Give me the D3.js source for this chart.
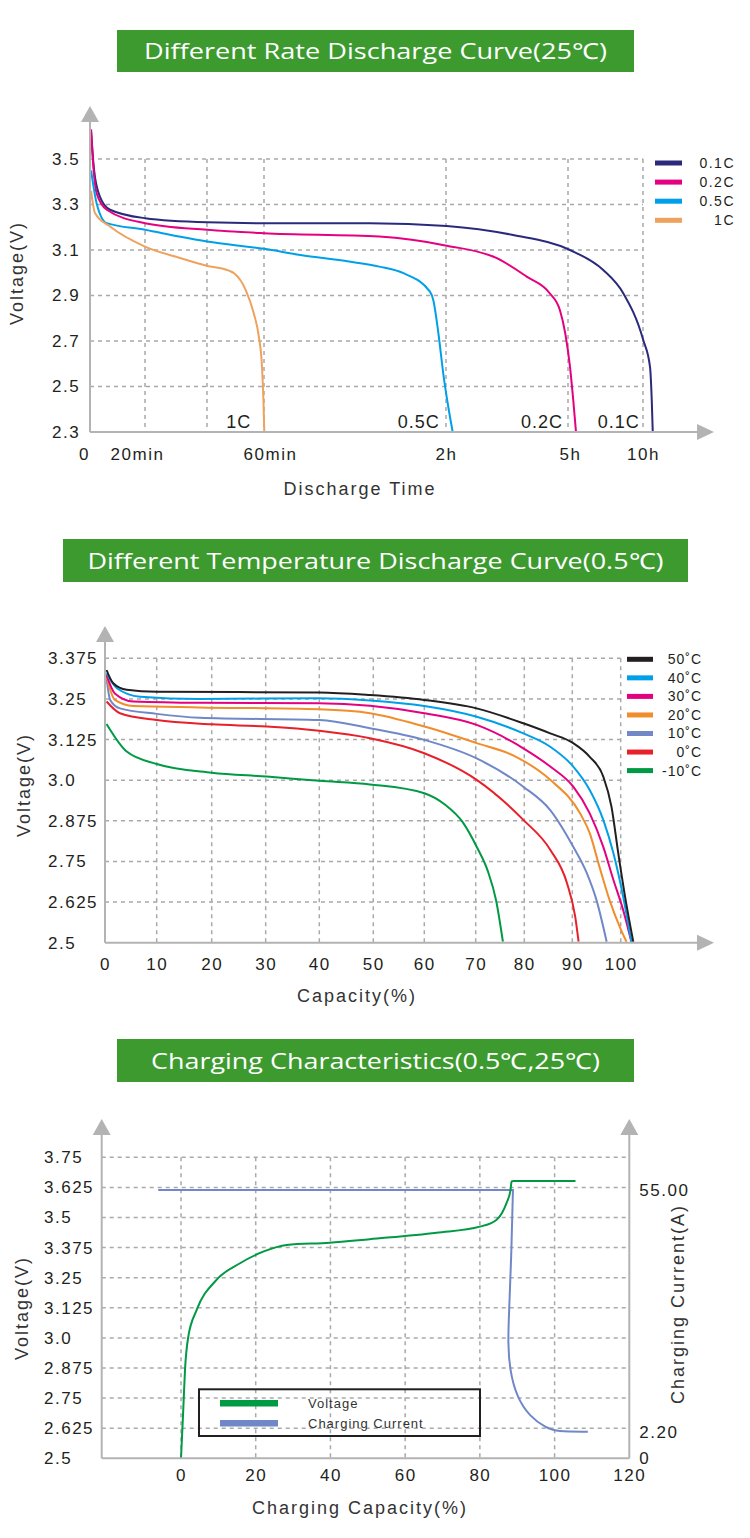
<!DOCTYPE html>
<html>
<head>
<meta charset="utf-8">
<script src="https://cdn.jsdelivr.net/npm/d3@7"></script>
<style>
  body { margin: 0; background: #fff; }
  text { font-family: "Liberation Sans", Arial, sans-serif; fill: #231f20; }
</style>
</head>
<body>
<svg id="chart" width="750" height="1538"></svg>
<script>
// ---- chart 1 : rate discharge (time in minutes, voltage) ----
var rateNames = ['0.1C', '0.2C', '0.5C', '1C'];
var rateColors = ['#2a2a7c', '#e4007f', '#00a0e9', '#eea25e'];
var rateTicks = [0, 20, 60, 120, 300, 600];
var rateTickLabels = ['0', '20min', '60min', '2h', '5h', '10h'];
var rateGridX = [20, 40, 60, 120, 300, 600];
var rateVolts = [2.3, 2.5, 2.7, 2.9, 3.1, 3.3, 3.5];
var rate01C = [[0.4,3.62],[1.5,3.45],[3.6,3.335],[7.3,3.277],[20,3.24],[40,3.222],[60,3.218],[95,3.218],[121,3.206],[219,3.166],[308,3.1],[441,3.012],[521,2.91],[601,2.704],[628,2.586],[635,2.44],[639,2.3]];
var rate02C = [[0.4,3.63],[1.2,3.47],[2.4,3.35],[6.1,3.277],[20,3.218],[40,3.189],[60,3.174],[98,3.159],[121,3.119],[195,3.064],[239,2.983],[273,2.91],[288,2.836],[296,2.733],[308,2.586],[321,2.44],[332,2.3]];
var rate05C = [[0.4,3.45],[2.4,3.306],[6.1,3.218],[20,3.189],[31,3.159],[40,3.137],[60,3.105],[72,3.078],[88,3.049],[98,3.027],[106,2.998],[114.7,2.917],[115.8,2.88],[117.5,2.733],[119.1,2.557],[123.4,2.41],[129.9,2.3]];
var rate1C = [[0.4,3.36],[1.8,3.263],[7.3,3.203],[20,3.115],[31.3,3.065],[39.9,3.031],[47.7,3.009],[49.5,2.998],[53.6,2.924],[56.4,2.822],[58.2,2.718],[59.3,2.586],[59.8,2.44],[60.1,2.3]];

// ---- chart 2 : temperature discharge (capacity %, voltage) ----
var tempNames = ['50˚C', '40˚C', '30˚C', '20˚C', '10˚C', '0˚C', '-10˚C'];
var tempColors = ['#231f20', '#00a0e9', '#e4007f', '#f18d2c', '#7088c8', '#e8202a', '#009944'];
var capTicks = [0, 10, 20, 30, 40, 50, 60, 70, 80, 90, 100];
var tempVolts = [2.5, 2.625, 2.75, 2.875, 3.0, 3.125, 3.25, 3.375];
var tempVoltLabels = ['2.5', '2.625', '2.75', '2.875', '3.0', '3.125', '3.25', '3.375'];
var temp50 = [[0.3,3.339],[1.6,3.298],[4.2,3.278],[10,3.272],[40,3.27],[49.4,3.262],[60,3.247],[70.2,3.221],[79.8,3.175],[85.4,3.144],[90.2,3.114],[93.6,3.072],[96.4,3.011],[98.1,2.918],[99.5,2.775],[100.9,2.642],[102.6,2.503]];
var temp40 = [[0.3,3.329],[2.3,3.283],[6.8,3.257],[17.8,3.25],[40,3.252],[49.4,3.245],[60,3.228],[70.2,3.195],[79.8,3.144],[85.4,3.103],[90.2,3.042],[93.6,2.97],[96.4,2.878],[98.5,2.775],[100.5,2.642],[102.2,2.503]];
var temp30 = [[0.3,3.324],[1.9,3.267],[5.5,3.242],[17.8,3.238],[40,3.237],[49.4,3.229],[60,3.206],[70.2,3.17],[79.8,3.098],[85.4,3.042],[90.2,2.98],[93.6,2.898],[96.4,2.795],[98.5,2.693],[100.5,2.601],[102.2,2.503]];
var temp20 = [[0.3,3.318],[1.9,3.247],[5.5,3.228],[17.8,3.224],[40,3.218],[49.4,3.206],[60,3.165],[70.2,3.114],[78.3,3.072],[85.4,3.001],[91.6,2.898],[93.6,2.837],[95.6,2.734],[97.7,2.631],[99.8,2.549],[101.2,2.503]];
var temp10 = [[0.3,3.314],[1.0,3.247],[2.9,3.221],[10,3.204],[17.8,3.192],[40,3.185],[49.4,3.16],[60,3.124],[70.2,3.067],[79.8,2.98],[85.4,2.908],[90.2,2.795],[93,2.714],[95,2.631],[97.1,2.503]];
var temp0 = [[0.3,3.242],[2.9,3.206],[10,3.185],[20,3.172],[30.2,3.165],[40,3.152],[49.4,3.129],[60,3.083],[70.2,3.001],[79.8,2.878],[85.4,2.786],[88.9,2.683],[90.6,2.58],[91.3,2.503]];
var tempM10 = [[0.3,3.173],[4.2,3.088],[10,3.05],[20,3.023],[30.2,3.011],[40,2.998],[49.4,2.987],[60,2.96],[64,2.925],[67.5,2.87],[70.2,2.795],[72.5,2.72],[74.2,2.63],[75.6,2.503]];

// ---- chart 3 : charging (capacity %, voltage / current) ----
var chgTicks = [0, 20, 40, 60, 80, 100, 120];
var chgGridX = [0, 20, 40, 60, 80, 100];
var chgVolts = [2.5, 2.625, 2.75, 2.875, 3.0, 3.125, 3.25, 3.375, 3.5, 3.625, 3.75];
var chgVoltLabels = ['2.5', '2.625', '2.75', '2.875', '3.0', '3.125', '3.25', '3.375', '3.5', '3.625', '3.75'];
var chgCurrTicks = [0, 2.2, 55];
var chgCurrLabels = ['0', '2.20', '55.00'];
var chgVoltage = [[0,2.5],[0.6,2.7],[1.07,2.867],[1.95,3.005],[4.2,3.116],[9.5,3.241],[15.8,3.31],[22,3.358],[28.3,3.386],[39.8,3.395],[50.5,3.41],[68.4,3.437],[80,3.462],[84.4,3.49],[87.1,3.559],[88.2,3.614],[88.5,3.65],[89,3.652],[105.6,3.652]];
var chgCurrent = [[-6.1,55],[88.85,55],[88.85,55],[88.85,55],[88.4,40],[87.8,28],[87.5,21.6],[88.0,15.7],[89.8,9.9],[93.3,5.5],[97.8,3.0],[100.5,2.2],[108.9,2.2]];
var chgLegend = ['Voltage', 'Charging Current'];
var chgColors = ['#009944', '#7088c8'];

var svg = d3.select('#chart');
var gridColor = '#a9a9a9', axisColor = '#b3b3b3';

function titleBox(x, y, w, h, txt, len) {
  svg.append('rect').attr('x', x).attr('y', y).attr('width', w).attr('height', h).attr('fill', '#3d9a2f');
  svg.append('text').attr('x', x + w / 2).attr('y', y + h / 2 + 8)
    .attr('text-anchor', 'middle').attr('textLength', len).attr('lengthAdjust', 'spacingAndGlyphs')
    .style('font-family', '"Open Sans", sans-serif').style('font-size', '22px').style('fill', '#fff')
    .text(txt);
}

function hGrid(vals, y, x0, x1) {
  svg.append('g').selectAll('line').data(vals).enter().append('line')
    .attr('x1', x0).attr('x2', x1).attr('y1', d => y(d)).attr('y2', d => y(d))
    .attr('stroke', gridColor).attr('stroke-width', 1.5).attr('stroke-dasharray', '4,4');
}

function vGrid(vals, x, y0, y1) {
  svg.append('g').selectAll('line').data(vals).enter().append('line')
    .attr('y1', y0).attr('y2', y1).attr('x1', d => x(d)).attr('x2', d => x(d))
    .attr('stroke', gridColor).attr('stroke-width', 1.5).attr('stroke-dasharray', '4,4');
}

function axisLine(x1, y1, x2, y2) {
  svg.append('line').attr('x1', x1).attr('y1', y1).attr('x2', x2).attr('y2', y2)
    .attr('stroke', axisColor).attr('stroke-width', 2);
}

function arrowUp(x, y) {
  svg.append('path').attr('d', 'M' + x + ',' + y + 'L' + (x - 9) + ',' + (y + 16) + 'L' + (x + 9) + ',' + (y + 16) + 'Z').attr('fill', axisColor);
}
function arrowRight(x, y) {
  svg.append('path').attr('d', 'M' + x + ',' + y + 'L' + (x - 17) + ',' + (y - 8) + 'L' + (x - 17) + ',' + (y + 8) + 'Z').attr('fill', axisColor);
}

function yLabels(scale, vals, labels, ax, left) {
  var g = svg.append('g').attr('transform', 'translate(' + ax + ',0)')
    .call(d3.axisLeft(scale).tickValues(vals).tickSize(0).tickFormat((d, i) => labels[i]));
  g.select('.domain').remove();
  g.selectAll('text').attr('x', left - ax).attr('text-anchor', 'start')
    .style('font-size', '17px').style('letter-spacing', '1.5px').style('font-family', '"Liberation Sans", Arial, sans-serif').attr('fill', '#231f20');
}

function xLabels(scale, vals, labels, ay, pad) {
  var g = svg.append('g').attr('transform', 'translate(0,' + ay + ')')
    .call(d3.axisBottom(scale).tickValues(vals).tickSize(0).tickPadding(pad).tickFormat((d, i) => labels[i]));
  g.select('.domain').remove();
  g.selectAll('text').style('font-size', '17px').style('letter-spacing', '1.5px')
    .style('font-family', '"Liberation Sans", Arial, sans-serif').attr('fill', '#231f20');
  return g;
}

function axisTitle(x, y, txt, rot) {
  svg.append('text').attr('transform', 'translate(' + x + ',' + y + ')' + (rot ? ' rotate(-90)' : ''))
    .attr('text-anchor', 'middle').attr('dy', '0.35em')
    .style('font-size', '18px').style('letter-spacing', '2px').style('fill', '#333').text(txt);
}

// =================== chart 1 ===================
titleBox(117, 30, 517, 42, 'Different Rate Discharge Curve(25℃)', 463);

var x1 = d3.scaleLinear().domain([0, 20, 40, 60, 120, 300, 600]).range([90, 145, 207, 264, 446, 568, 643]);
var y1 = d3.scaleLinear().domain([2.3, 3.5]).range([432, 159]);

hGrid(rateVolts.slice(1), y1, 90, x1(600));
vGrid(rateGridX, x1, y1(3.5), y1(2.3));

var line1 = d3.line().x(d => x1(d[0])).y(d => y1(d[1])).curve(d3.curveMonotoneX);
var rateSeries = [rate01C, rate02C, rate05C, rate1C];
svg.append('g').selectAll('path').data(rateSeries).enter().append('path')
  .attr('d', line1).attr('fill', 'none').attr('stroke-width', 2)
  .attr('stroke', (d, i) => rateColors[i]);

// curve end labels
svg.append('g').selectAll('text').data(rateSeries).enter().append('text')
  .attr('x', d => x1(d[d.length - 1][0]) - 13).attr('y', 428)
  .attr('text-anchor', 'end').style('font-size', '18px').style('letter-spacing', '1px')
  .text((d, i) => rateNames[i]);

axisLine(90, 120, 90, 432);
axisLine(90, 432, 698, 432);
arrowUp(90, 106);
arrowRight(714, 432);

yLabels(y1, rateVolts, rateVolts.map(d => d.toFixed(1)), 90, 52);
xLabels(x1, rateTicks, rateTickLabels, 432, 16)
  .selectAll('text').attr('dx', (d, i) => [-6, -8, 6, 0, 2, 0][i]);
axisTitle(17, 273, 'Voltage(V)', true);
axisTitle(360, 489, 'Discharge Time', false);

var leg1 = svg.append('g').selectAll('g').data(rateNames).enter().append('g')
  .attr('transform', (d, i) => 'translate(0,' + (163 + i * 19.1) + ')');
leg1.append('line').attr('x1', 655).attr('x2', 682).attr('stroke-width', 5)
  .attr('stroke', (d, i) => rateColors[i]);
leg1.append('text').attr('x', 735).attr('dy', '0.35em').attr('text-anchor', 'end')
  .style('font-size', '14px').style('letter-spacing', '1.5px').text(d => d);

// =================== chart 2 ===================
titleBox(63, 539, 625, 43, 'Different Temperature Discharge Curve(0.5℃)', 576);

var x2 = d3.scaleLinear().domain(capTicks)
  .range([105, 156.7, 211.7, 265.7, 319.3, 373.3, 424.3, 475.7, 524.3, 572.3, 620.7]);
var y2 = d3.scaleLinear().domain([2.5, 3.375]).range([942.7, 658.3]);

hGrid(tempVolts.slice(1), y2, 105, x2(100));
vGrid(capTicks.slice(1), x2, y2(3.375), y2(2.5));

var line2 = d3.line().x(d => x2(d[0])).y(d => y2(d[1])).curve(d3.curveMonotoneX);
var tempSeries = [temp50, temp40, temp30, temp20, temp10, temp0, tempM10];
svg.append('g').selectAll('path').data(tempSeries.slice().reverse()).enter().append('path')
  .attr('d', line2).attr('fill', 'none').attr('stroke-width', 2)
  .attr('stroke', (d, i) => tempColors[tempColors.length - 1 - i]);

axisLine(105, 640, 105, 942.7);
axisLine(105, 942.7, 698, 942.7);
arrowUp(105, 626);
arrowRight(714, 942.7);

yLabels(y2, tempVolts, tempVoltLabels, 105, 48);
xLabels(x2, capTicks, capTicks.map(String), 942.7, 15);
axisTitle(24, 785, 'Voltage(V)', true);
axisTitle(357, 996, 'Capacity(%)', false);

var leg2 = svg.append('g').selectAll('g').data(tempNames).enter().append('g')
  .attr('transform', (d, i) => 'translate(0,' + (659.3 + i * 18.55) + ')');
leg2.append('line').attr('x1', 627).attr('x2', 653).attr('stroke-width', 5)
  .attr('stroke', (d, i) => tempColors[i]);
leg2.append('text').attr('x', 702).attr('dy', '0.35em').attr('text-anchor', 'end')
  .style('font-size', '14px').style('letter-spacing', '1px').text(d => d);

// =================== chart 3 ===================
titleBox(117, 1039, 517, 43, 'Charging Characteristics(0.5℃,25℃)', 449);

var x3 = d3.scaleLinear().domain([0, 120]).range([181, 629.3]);
var y3 = d3.scaleLinear().domain([2.5, 3.75]).range([1458.3, 1157.3]);
var c3 = d3.scaleLinear().domain(chgCurrTicks).range([1458.3, 1431.7, 1190]);

hGrid(chgVolts.slice(1), y3, 101.7, 627);
vGrid(chgGridX, x3, y3(3.75), y3(2.5));

var line3v = d3.line().x(d => x3(d[0])).y(d => y3(d[1])).curve(d3.curveMonotoneX);
// repeated corner point keeps the b-spline sharp at the end of the flat part
var line3c = d3.line().x(d => x3(d[0])).y(d => c3(d[1])).curve(d3.curveBasis);
svg.append('path').datum(chgCurrent).attr('d', line3c).attr('fill', 'none')
  .attr('stroke', chgColors[1]).attr('stroke-width', 2);
svg.append('path').datum(chgVoltage).attr('d', line3v).attr('fill', 'none')
  .attr('stroke', chgColors[0]).attr('stroke-width', 2);

axisLine(101.7, 1134, 101.7, 1458.3);
axisLine(629.3, 1134, 629.3, 1458.3);
axisLine(101.7, 1458.3, 629.3, 1458.3);
arrowUp(101.7, 1119);
arrowUp(629.3, 1119);

yLabels(y3, chgVolts, chgVoltLabels, 101.7, 44);
xLabels(x3, chgTicks, chgTicks.map(String), 1458.3, 11);

var gr = svg.append('g').attr('transform', 'translate(629.3,0)')
  .call(d3.axisRight(c3).tickValues(chgCurrTicks).tickSize(0).tickPadding(10).tickFormat((d, i) => chgCurrLabels[i]));
gr.select('.domain').remove();
gr.selectAll('text').style('font-size', '17px').style('letter-spacing', '1.5px')
  .style('font-family', '"Liberation Sans", Arial, sans-serif').attr('fill', '#231f20');

axisTitle(22, 1308, 'Voltage(V)', true);
axisTitle(678, 1304, 'Charging Current(A)', true);
axisTitle(360, 1508, 'Charging Capacity(%)', false);

svg.append('rect').attr('x', 199).attr('y', 1389.3).attr('width', 281).attr('height', 46.7)
  .attr('fill', 'none').attr('stroke', '#231f20').attr('stroke-width', 2);
var leg3 = svg.append('g').selectAll('g').data(chgLegend).enter().append('g')
  .attr('transform', (d, i) => 'translate(0,' + (1403.3 + i * 20) + ')');
leg3.append('line').attr('x1', 220).attr('x2', 278).attr('stroke-width', 6.5)
  .attr('stroke', (d, i) => chgColors[i]);
leg3.append('text').attr('x', 308).attr('dy', '0.35em')
  .style('font-size', '13px').style('letter-spacing', '1px').style('fill', '#333').text(d => d);
</script>
</body>
</html>
